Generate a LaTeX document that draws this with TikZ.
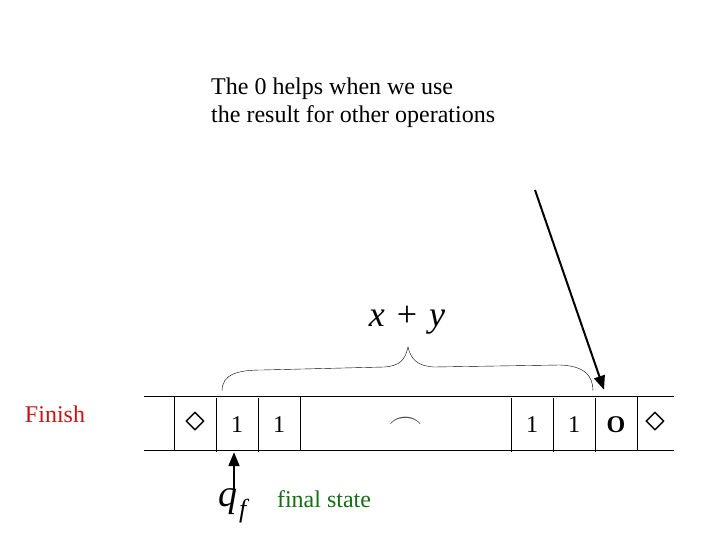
\documentclass[tikz,border=0pt]{standalone}
\usepackage{fontspec}
\setmainfont{Liberation Serif}
\usetikzlibrary{arrows.meta}
\definecolor{finishred}{RGB}{200,20,20}
\definecolor{stategreen}{RGB}{20,110,20}

\begin{document}
\begin{tikzpicture}[x=1pt, y=-1pt]
  % Define tape cell and pointer styles
  \tikzstyle{tapecell} = [minimum width=42pt, minimum height=54pt,
  inner sep=0pt, font=\fontsize{24}{24}\selectfont]
  \tikzstyle{pointer} = [line width=2pt, -{Triangle[length=14pt,width=11pt]}]
  \useasboundingbox (0,0) rectangle (720,540);

  \node[anchor=north west, align=left, inner sep=0pt,
  font=\fontsize{24}{28}\selectfont] (note) at (211,78)
  {The 0 helps when we use\\the result for other operations};

  % the tape
  \node[tapecell, minimum width=30pt] (c0) at (159,423) {};
  \node[tapecell] (c1) at (195,423) {\scalebox{1.6}{$\diamond$}};
  \node[tapecell] (c2) at (237,425) {1};
  \node[tapecell] (c3) at (279,425) {1};
  \node[tapecell, minimum width=211pt] (c4) at (405.5,423)
  {\color{black!70}\scalebox{1.4}[1.2]{$\frown$}};
  \node[tapecell] (c5) at (532,425) {1};
  \node[tapecell] (c6) at (574,425) {1};
  \node[tapecell] (c7) at (616,425) {\textbf{O}};
  \node[tapecell, minimum width=37pt] (c8) at (655.5,423)
  {\scalebox{1.6}{$\diamond$}};
  \draw (c0.north west) -- (c8.north east);
  \draw (c0.south west) -- (c8.south east);
  \foreach \c in {c1,c2,c3,c4,c5,c6,c7,c8}
    \draw (\c.north west) -- (\c.south west);

  % brace over x+y
  \coordinate (bl) at (222,391);
  \coordinate (btip) at (408,347);
  \coordinate (br) at (593,391);
  \draw (bl) .. controls (222,374) and (238,370) .. (262,370)
    -- (384,367) .. controls (400,366) and (405,360) .. (btip)
    .. controls (411,360) and (418,366) .. (434,367)
    -- (560,365) .. controls (585,366) and (593,376) .. (br);
  \node[font=\fontsize{36}{36}\selectfont] (sum) at (407,320)
  {\textit{x}\,\,+\,\,\textit{y}};

  % pointer to the 0
  \coordinate (src) at (535,190);
  \draw[pointer] (src) -- ([shift={(-12,-8)}]c7.north);

  \node[text=finishred, font=\fontsize{24}{24}\selectfont] (finish)
  at (55,414) {Finish};

  % head of the machine
  \node[inner sep=0pt] (qf) at (234,506)
  {{\fontsize{38}{38}\selectfont\textit{q}}\,\raisebox{-11pt}{\fontsize{26}{26}\selectfont\textit{f}}};
  \draw[pointer] ([yshift=-1pt]qf.north) -- (qf.north |- c2.south);
  \node[text=stategreen, font=\fontsize{24}{24}\selectfont] (final)
  at (324,499) {final state};
\end{tikzpicture}
\end{document}
